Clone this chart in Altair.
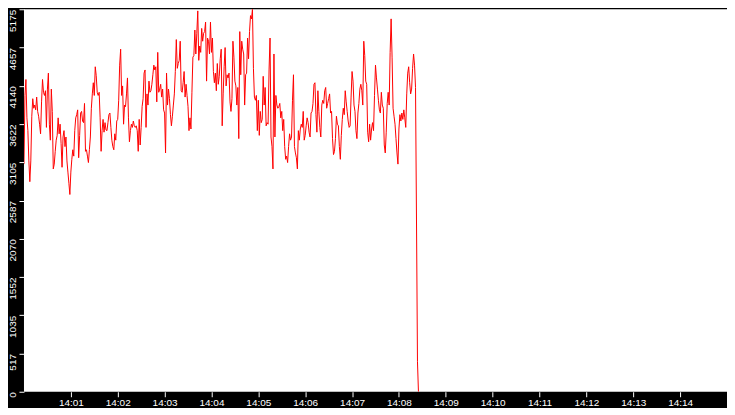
import altair as alt
import pandas as pd

seg1 = [3080, 4009, 4225, 3706, 3533, 3123, 2842, 3123, 3728, 3965, 3836, 3879, 3814, 3987, 3793,
        3728, 3620, 3490, 3922, 4225, 4052, 4009, 4073, 3577, 4095, 4311, 3620, 3404, 4095, 3793,
        3015, 3080, 3253, 3404, 3469, 3706, 3490, 3620, 3361, 3037, 3447, 3533, 3317, 3447, 3123,
        2972, 2821, 2669, 2972, 3145, 3274, 3188, 3533, 3706, 3749, 3814, 3166, 3469, 3771, 3793,
        3663, 3641, 3901, 3253, 3274, 3188, 3101, 3274, 3447, 3836, 4030, 4181, 4009, 4397, 4276,
        4052, 4009, 4052, 3706, 3253, 3533, 3685, 3512, 3641, 3542]
seg2 = [3533, 3641, 3749, 3771, 3577, 3404, 3317, 3274, 3490, 3404, 3663, 3685, 3944, 4419, 4635,
        4009, 4138, 3620, 3879, 3857, 4030, 4246, 3706, 3382, 3533, 3620, 3577, 3663, 3598, 3577,
        3598, 3533, 3253, 3685, 3339, 3577, 3857, 3965, 4311, 4354, 3577, 4030, 3879, 4203, 4052,
        4073, 4160, 4289, 4419, 4354, 4397, 3922, 4592, 4052, 4095, 4160, 3987, 4095, 3814, 3771,
        3231, 4311, 3879, 4095, 3965, 3749, 3598, 3728, 3879, 4030, 4333, 4765, 4376, 4441, 4484,
        4743, 4073, 4052, 4181, 4333, 3987, 4160, 4009, 3857, 3533]
seg3 = [3706, 3555, 4052, 4527, 4549, 4894, 4570, 4851, 5153, 4484, 4678, 4592, 4916, 4743, 4851,
        4873, 5002, 4203, 4786, 4743, 4570, 5002, 4592, 4786, 4333, 4181, 4311, 4073, 4441, 4160,
        4268, 4505, 4635, 3598, 4030, 4397, 4657, 4138, 4289, 4246, 4311, 3922, 3793, 3965, 4743,
        4527, 4203, 4138, 3879, 4117, 3425, 4873, 4289, 4743, 4635, 4570, 3879, 4289, 4311, 4786,
        4505, 4873, 5089, 5045, 5175, 4376, 3987, 3944, 4009, 3533, 3944, 3469, 3793, 3641, 3685,
        4268, 3879, 4117, 3598, 3641, 3620, 4354, 4786, 3447, 3317]
seg4 = [3015, 4570, 3447, 4009, 3879, 3836, 3857, 3901, 3706, 3793, 3533, 3685, 3317, 3145, 3188,
        3101, 3317, 3490, 3404, 3447, 3944, 4289, 3317, 3231, 3166, 3015, 3533, 3404, 3555, 3620,
        3577, 3793, 3404, 3469, 3598, 3706, 3641, 3512, 3447, 3771, 3793, 3901, 4160, 4181, 3749,
        3512, 4073, 3793, 3577, 3447, 3879, 3944, 3901, 4073, 4117, 3836, 3901, 3965, 4030, 3771,
        3793, 3425, 3209, 3253, 3425, 3728, 3620, 3598, 3317, 3145, 3469, 3685, 3836, 3749, 4073,
        3922, 3793, 3663, 3577, 3598, 3987, 4333, 4203, 3879, 3793]
seg5 = [3533, 3425, 3771, 3901, 4095, 4160, 4073, 3879, 4743, 4549, 4203, 4160, 3512, 3382, 3620,
        3404, 3555, 3641, 3533, 4009, 4419, 4246, 4095, 3944, 3814, 3771, 4052, 3879, 3836, 3339,
        3231, 3512, 3901, 4052, 3879, 4592, 5045, 4527, 3836, 3728, 3620, 3425, 3231, 3080, 3555,
        3749, 3663, 3771, 3685, 3814, 3706, 3577, 4030, 4311, 4397, 4181, 4030, 4095, 4376, 4570,
        4419, 4117, 2324, 406, 0]

values = seg1 + seg2 + seg3 + seg4 + seg5
times = pd.date_range("2024-01-01 14:00:00", periods=len(values), freq="1250ms")

y_ticks = [0, 517.5, 1035, 1552.5, 2070, 2587.5, 3105, 3622.5, 4140, 4657.5, 5175]
x_tick_minutes = list(range(1, 15))

df = pd.DataFrame({"time": times, "value": values})

x_vals = [alt.DateTime(year=2024, month=1, date=1, hours=14, minutes=m) for m in x_tick_minutes]

chart = (
    alt.Chart(df)
    .mark_line(color="#ff0000", strokeWidth=1, clip=True)
    .encode(
        x=alt.X(
            "time:T",
            scale=alt.Scale(
                domain=[
                    alt.DateTime(year=2024, month=1, date=1, hours=14, minutes=0),
                    alt.DateTime(year=2024, month=1, date=1, hours=14, minutes=15),
                ]
            ),
            axis=alt.Axis(
                values=x_vals,
                format="%H:%M",
                title=None,
                grid=False,
                domain=False,
                tickColor="white",
                tickSize=5,
                labelColor="white",
                labelFont="Liberation Sans",
                labelFontSize=10,
                labelPadding=1,
                labelBaseline="top",
                minExtent=16,
                maxExtent=16,
            ),
        ),
        y=alt.Y(
            "value:Q",
            scale=alt.Scale(domain=[0, 5175], nice=False, zero=True),
            axis=alt.Axis(
                values=y_ticks,
                labelExpr="floor(datum.value)",
                title=None,
                grid=False,
                domain=False,
                tickColor="white",
                tickSize=5,
                labelColor="white",
                labelFont="Liberation Sans",
                labelFontSize=10,
                labelAngle=270,
                labelAlign="right",
                labelBaseline="bottom",
                labelPadding=1,
                labelOverlap=False,
                labelBound=False,
                labelFlush=False,
                minExtent=15,
                maxExtent=15,
            ),
        ),
    )
    .properties(width=704, height=383, background="black", padding=0)
    .configure_view(fill="white", strokeWidth=0)
)

chart.save("out.html", embed_options={"renderer": "svg", "actions": False})
